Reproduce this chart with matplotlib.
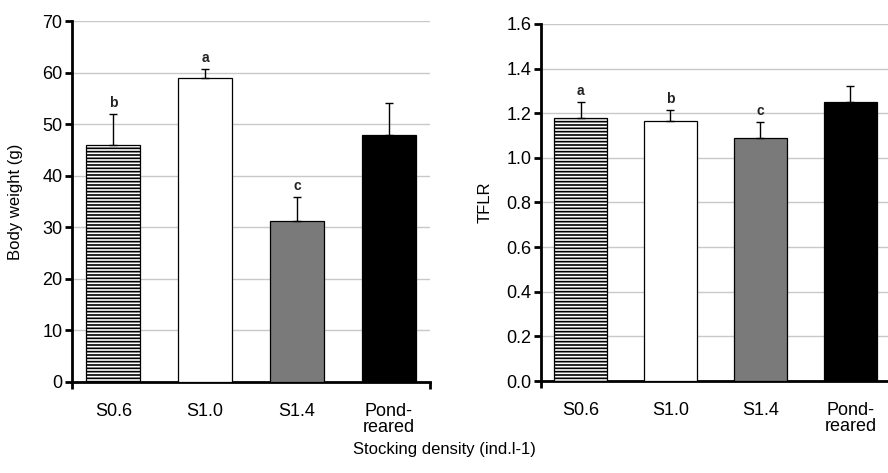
import numpy as np
import matplotlib.pyplot as plt
from matplotlib import font_manager

names = {f.name for f in font_manager.fontManager.ttflist}
fam = ['Liberation Sans Narrow'] if 'Liberation Sans Narrow' in names else ['Liberation Sans']
plt.rcParams['font.family'] = fam + ['DejaVu Sans']
plt.rcParams['hatch.linewidth'] = 1.2

categories = ['S0.6', 'S1.0', 'S1.4', 'Pond-\nreared']
weight = [46.0, 59.0, 31.3, 47.9]
weight_err = [5.9, 1.7, 4.5, 6.2]
weight_letters = ['b', 'a', 'c', '']
tflr = [1.18, 1.165, 1.09, 1.25]
tflr_err = [0.07, 0.05, 0.07, 0.07]
tflr_letters = ['a', 'b', 'c', '']

fills = ['white', 'white', '#7a7a7a', 'black']
hatches = ['-----', None, None, None]

fig = plt.figure(figsize=(8.88, 4.73), dpi=100)
ax1 = fig.add_axes([0.0811, 0.1924, 0.4031, 0.7632])
ax2 = fig.add_axes([0.6092, 0.1945, 0.3930, 0.7548])


def draw(ax, vals, errs, letters, ymax, step, fmt, ylabel, lpad, lo):
    x = np.arange(len(vals))
    for i in range(len(vals)):
        ax.bar(x[i], vals[i], width=0.59, color=fills[i], edgecolor='black',
               linewidth=0.9, hatch=hatches[i], zorder=3)
    ax.errorbar(x, vals, yerr=[np.zeros(len(errs)), errs], fmt='none',
                ecolor='black', elinewidth=1.0, capsize=3, capthick=1.0, zorder=4)
    for i, l in enumerate(letters):
        if l:
            ax.text(x[i], vals[i] + errs[i] + ymax * 0.012, l, ha='center',
                    va='bottom', fontsize=10, fontweight='bold', color='#222222')
    ax.set_xlim(lo, len(vals) - 1 - lo)
    ax.set_ylim(0, ymax)
    yt = np.arange(0, ymax + step / 2, step)
    ax.set_yticks(yt)
    ax.set_yticklabels([fmt.format(v) for v in yt], fontsize=13)
    ax.yaxis.grid(True, color='#c8c8c8', linewidth=1.0, zorder=0)
    ax.set_axisbelow(True)
    ax.set_xticks(x)
    ax.set_xticklabels(categories, fontsize=13, linespacing=0.95)
    ax.tick_params(axis='x', length=0, pad=15)
    ax.set_xticks([lo, len(vals) - 1 - lo], minor=True)
    ax.tick_params(axis='x', which='minor', length=5, width=2, direction='out')
    ax.tick_params(axis='y', length=5, width=2, direction='out', pad=2)
    for s in ['top', 'right']:
        ax.spines[s].set_visible(False)
    for s in ['left', 'bottom']:
        ax.spines[s].set_linewidth(2)
    ax.set_ylabel(ylabel, fontsize=12, labelpad=lpad)


draw(ax1, weight, weight_err, weight_letters, 70, 10, '{:.0f}', 'Body weight (g)', 14, -0.45)
draw(ax2, tflr, tflr_err, tflr_letters, 1.6, 0.2, '{:.1f}', 'TFLR', 10, -0.44)

fig.text(0.5, 0.05, 'Stocking density (ind.l-1)', ha='center', va='center', fontsize=12)

fig.savefig('out.png', dpi=100)
